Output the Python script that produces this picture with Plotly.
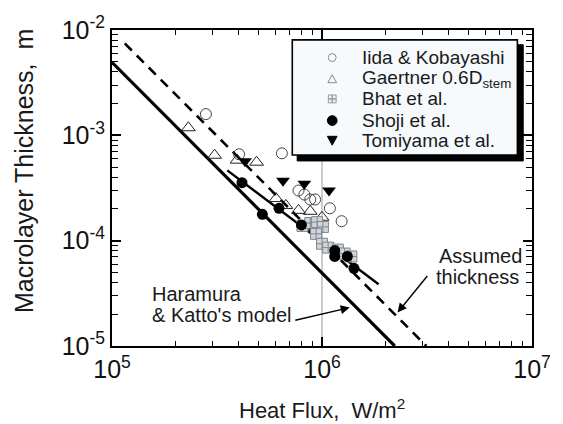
import numpy as np
import plotly.graph_objects as go

# ---- measured macrolayer thickness [m] vs heat flux [W/m^2] ----
iida_q = [2.80e5, 4.03e5, 6.44e5, 7.73e5, 8.24e5, 8.79e5, 9.27e5, 1.09e6, 1.24e6]
iida_d = [1.59e-3, 6.61e-4, 6.75e-4, 2.99e-4, 2.74e-4, 2.46e-4, 2.46e-4, 2.03e-4, 1.53e-4]

gaertner_q = [2.31e5, 3.08e5, 3.94e5, 4.88e5, 6.04e5, 6.73e5, 7.73e5, 8.79e5, 1.00e6]
gaertner_d = [1.18e-3, 6.47e-4, 5.81e-4, 5.56e-4, 2.51e-4, 2.16e-4, 1.94e-4, 1.90e-4, 1.67e-4]

bhat_q = [8.07e5, 8.79e5, 9.48e5, 1.01e6, 9.37e5, 1.00e6, 1.07e6, 1.19e6, 1.28e6, 1.38e6]
bhat_d = [1.38e-4, 1.47e-4, 1.50e-4, 1.35e-4, 1.16e-4, 9.35e-5, 8.59e-5, 8.23e-5, 7.55e-5, 7.08e-5]

shoji_q = [4.16e5, 5.20e5, 6.24e5, 7.98e5, 1.15e6, 1.15e6, 1.32e6, 1.42e6]
shoji_d = [3.55e-4, 1.78e-4, 2.03e-4, 1.41e-4, 8.05e-5, 7.08e-5, 7.08e-5, 5.47e-5]

tomiyama_q = [4.30e5, 6.52e5, 8.24e5, 1.08e6]
tomiyama_d = [5.69e-4, 3.70e-4, 3.47e-4, 2.99e-4]

# ---- model lines: delta = C * q**n ----
hk_coef, hk_exp, hk_q = 4.93e7, -2.0, [1.0e5, 2.22e6]            # Haramura & Katto
assumed_coef, assumed_exp, assumed_q = 9.86e7, -2.0, [1.15e5, 3.14e6]  # assumed thickness
fit_coef, fit_exp, fit_q = 9.79e4, -1.5, [3.54e5, 1.86e6]          # fit through Shoji data

x_tickvals = [1e5, 1e6, 1e7]
x_ticktext = ["10<sup>5</sup>", "10<sup>6</sup>", "10<sup>7</sup>"]
y_tickvals = [1e-5, 1e-4, 1e-3, 1e-2]
y_ticktext = ["10<sup>-5</sup>", "10<sup>-4</sup>", "10<sup>-3</sup>", "10<sup>-2</sup>"]

legend_labels = ["Iida & Kobayashi", "Gaertner 0.6D<sub>stem</sub>", "Bhat et al.",
                 "Shoji et al.", "Tomiyama et al."]

FONT = "Liberation Sans, Arial, Helvetica, sans-serif"
W, H = 563, 424
L, R, T, B = 112, 20, 25, 78
PW, PH = W - L - R, H - T - B


def fx(px):
    return (px - L) / PW


def fy(py):
    return (H - B - py) / PH


def model(coef, exp, q):
    q = np.asarray(q, dtype=float)
    return q, coef * q ** exp


# legend panel geometry (pixels)
BOX = (297, 35, 528, 152)
SHADOW = (302, 40, 534, 158)
row_y = [53, 75, 95, 117, 137]
sym_x = 338
text_x = 367

fig = go.Figure()

# reference line at 1e6 W/m^2 (the legend panel is drawn over it)
fig.add_trace(go.Scatter(x=[1e6, 1e6], y=[1e-5, 1e-2], mode="lines",
                         line=dict(color="#9a9a9a", width=1), showlegend=False,
                         hoverinfo="skip"))

q, d = model(hk_coef, hk_exp, hk_q)
fig.add_trace(go.Scatter(x=q, y=d, mode="lines", line=dict(color="black", width=3.2),
                         showlegend=False))
q, d = model(assumed_coef, assumed_exp, assumed_q)
fig.add_trace(go.Scatter(x=q, y=d, mode="lines",
                         line=dict(color="black", width=2.6, dash="10px,7px"),
                         showlegend=False))
q, d = model(fit_coef, fit_exp, fit_q)
fig.add_trace(go.Scatter(x=q, y=d, mode="lines", line=dict(color="black", width=2.4),
                         showlegend=False))

styles = [
    dict(symbol="circle-open", size=11, color="#444", line=dict(width=1)),
    dict(symbol="triangle-up-open", size=12, color="#222", line=dict(width=1)),
    dict(symbol="square-cross", size=11, color="#cfd5da", line=dict(color="#80868c", width=1)),
    dict(symbol="circle", size=11, color="black"),
    dict(symbol="triangle-down", size=12, color="black"),
]
series = [(iida_q, iida_d), (gaertner_q, gaertner_d), (bhat_q, bhat_d),
          (shoji_q, shoji_d), (tomiyama_q, tomiyama_d)]
for (xq, yd), st in zip(series, styles):
    fig.add_trace(go.Scatter(x=xq, y=yd, mode="markers", marker=st, showlegend=False))


# ---- legend panel as paper shapes drawn above the traces ----
def prect(box, fill, lw, lc="black"):
    x0, y0, x1, y1 = box
    return dict(type="rect", xref="paper", yref="paper", layer="above",
                x0=fx(x0), x1=fx(x1), y0=fy(y1), y1=fy(y0), fillcolor=fill,
                line=dict(color=lc, width=lw))


def ppath(points, fill, lc, lw):
    d = "M " + " L ".join(f"{fx(x):.5f},{fy(y):.5f}" for x, y in points) + " Z"
    return dict(type="path", xref="paper", yref="paper", layer="above", path=d,
                fillcolor=fill, line=dict(color=lc, width=lw))


def pcircle(cx, cy, r, fill, lc, lw):
    return dict(type="circle", xref="paper", yref="paper", layer="above",
                x0=fx(cx - r), x1=fx(cx + r), y0=fy(cy + r), y1=fy(cy - r),
                fillcolor=fill, line=dict(color=lc, width=lw))


shapes = [prect(SHADOW, "#000000", 1, "#000000"),
          prect(BOX, "#f7fafc", 1.6, "#000000")]

sx = sym_x
y_i, y_g, y_b, y_s, y_t = row_y
shapes.append(pcircle(sx, y_i, 4, "rgba(0,0,0,0)", "#8a8a8a", 1))
shapes.append(ppath([(sx - 4.5, y_g + 3.5), (sx + 4.5, y_g + 3.5), (sx, y_g - 4.5)],
                    "rgba(0,0,0,0)", "#8a8a8a", 1))
shapes.append(prect((sx - 4, y_b - 4, sx + 4, y_b + 4), "#eef0f2", 1, "#9a9a9a"))
shapes.append(ppath([(sx, y_b - 4), (sx, y_b + 4)], "rgba(0,0,0,0)", "#9a9a9a", 1))
shapes.append(ppath([(sx - 4, y_b), (sx + 4, y_b)], "rgba(0,0,0,0)", "#9a9a9a", 1))
shapes.append(pcircle(sx, y_s, 5, "#000000", "#000000", 1))
shapes.append(ppath([(sx - 5, y_t - 4), (sx + 5, y_t - 4), (sx, y_t + 5)],
                    "#000000", "#000000", 1))

annotations = []
for yy, lab in zip(row_y, legend_labels):
    annotations.append(dict(xref="paper", yref="paper", x=fx(text_x), y=fy(yy), text=lab,
                            showarrow=False, xanchor="left", yanchor="middle",
                            font=dict(family=FONT, size=19, color="#1a1a1a")))

# text labels
for txt, px, py in [("Haramura", 151, 293), ("& Katto's model", 151, 315),
                    ("Assumed", 445, 255), ("thickness", 442, 276)]:
    annotations.append(dict(xref="paper", yref="paper", x=fx(px), y=fy(py), text=txt,
                            showarrow=False, xanchor="left", yanchor="middle",
                            font=dict(family=FONT, size=20, color="#1a1a1a")))

# arrows pointing at the two model lines
for (hx, hy), (tx, ty) in [((356, 307), (300, 320)), ((405, 312), (436, 274))]:
    annotations.append(dict(xref="paper", yref="paper", x=fx(hx), y=fy(hy), text="",
                            showarrow=True, arrowhead=2, arrowsize=1.3, arrowwidth=1.4,
                            arrowcolor="black", axref="pixel", ayref="pixel",
                            ax=tx - hx, ay=ty - hy, standoff=0))

# axis titles
annotations.append(dict(xref="paper", yref="paper", x=fx(328), y=fy(410),
                        text="Heat Flux,\u00a0 W/m<sup>2</sup>", showarrow=False,
                        xanchor="center", yanchor="middle",
                        font=dict(family=FONT, size=22, color="#1a1a1a")))
annotations.append(dict(xref="paper", yref="paper", x=fx(21), y=fy(168),
                        text="Macrolayer Thickness,\u00a0 m", showarrow=False, textangle=-90,
                        xanchor="center", yanchor="middle",
                        font=dict(family=FONT, size=25, color="#1a1a1a")))

x_minor = [m * 10 ** e for e in (5, 6) for m in range(2, 10)]
y_minor = [m * 10 ** e for e in (-5, -4, -3) for m in range(2, 10)]

axis_common = dict(type="log", showline=True, linecolor="black", linewidth=2,
                   mirror="allticks", ticks="inside", ticklen=9, tickwidth=1.5,
                   tickcolor="black", showgrid=False, zeroline=False,
                   tickfont=dict(family=FONT, size=25, color="#111"))

fig.update_layout(
    width=W, height=H, margin=dict(l=L, r=R, t=T, b=B),
    paper_bgcolor="white", plot_bgcolor="white",
    xaxis=dict(range=[5, 7], tickmode="array", tickvals=x_tickvals, ticktext=x_ticktext,
               minor=dict(tickmode="array", tickvals=x_minor, ticks="inside", ticklen=5,
                          tickwidth=1, tickcolor="black", showgrid=False),
               **axis_common),
    yaxis=dict(range=[-5, -2], tickmode="array", tickvals=y_tickvals, ticktext=y_ticktext,
               minor=dict(tickmode="array", tickvals=y_minor, ticks="inside", ticklen=6,
                          tickwidth=1, tickcolor="black", showgrid=False),
               **axis_common),
    shapes=shapes,
    annotations=annotations,
    showlegend=False,
)

fig.write_html("out.html")
